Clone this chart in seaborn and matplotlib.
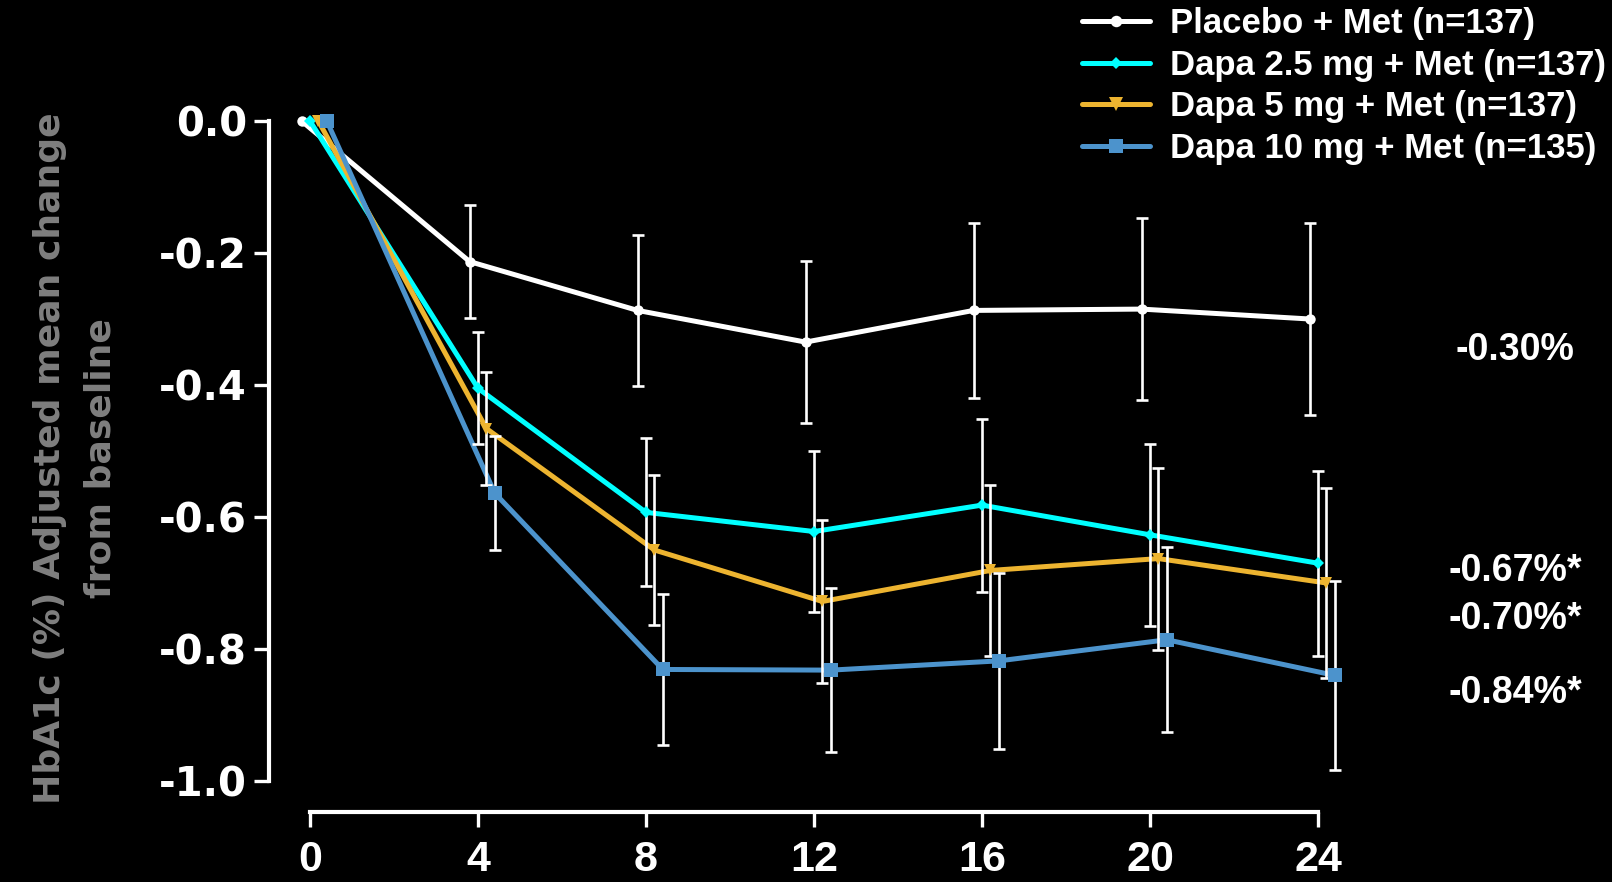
import matplotlib
matplotlib.use("Agg")
import matplotlib.pyplot as plt
from matplotlib import font_manager
from matplotlib.lines import Line2D
import matplotlib.transforms as mtransforms
import numpy as np
import pandas as pd
import seaborn as sns

# ---- data -------------------------------------------------------------
weeks = [0, 4, 8, 12, 16, 20, 24]

placebo = [0.0, -0.213, -0.287, -0.335, -0.287, -0.285, -0.30]
placebo_err = [0.0, 0.086, 0.114, 0.123, 0.132, 0.138, 0.145]

dapa25 = [0.0, -0.405, -0.593, -0.622, -0.582, -0.627, -0.67]
dapa25_err = [0.0, 0.085, 0.112, 0.122, 0.131, 0.138, 0.140]

dapa5 = [0.0, -0.466, -0.650, -0.728, -0.681, -0.663, -0.70]
dapa5_err = [0.0, 0.086, 0.113, 0.124, 0.129, 0.138, 0.144]

dapa10 = [0.0, -0.564, -0.831, -0.832, -0.818, -0.786, -0.84]
dapa10_err = [0.0, 0.086, 0.114, 0.124, 0.133, 0.140, 0.143]

group_labels = [
    "Placebo + Met (n=137)",
    "Dapa 2.5 mg + Met (n=137)",
    "Dapa 5 mg + Met (n=137)",
    "Dapa 10 mg + Met (n=135)",
]
end_labels = ["-0.30%", "-0.67%*", "-0.70%*", "-0.84%*"]
# vertical placement of the week-24 annotations (value axis)
end_label_y = [-0.347, -0.682, -0.754, -0.866]

y_ticks = [0.0, -0.2, -0.4, -0.6, -0.8, -1.0]
y_label = "HbA1c (%) Adjusted mean change\nfrom baseline"

# ---- styling ----------------------------------------------------------
series = [
    dict(y=placebo, e=placebo_err, color="#FFFFFF", marker="o", ms=7.5, dx=-0.2),
    dict(y=dapa25, e=dapa25_err, color="#00FFFF", marker="D", ms=6.0, dx=0.0),
    dict(y=dapa5, e=dapa5_err, color="#EDB430", marker="v", ms=9.0, dx=0.2),
    dict(y=dapa10, e=dapa10_err, color="#4C93CC", marker="s", ms=9.5, dx=0.4),
]

sns.set_theme(style="ticks")
names = {f.name for f in font_manager.fontManager.ttflist}
main_font = "Liberation Sans" if "Liberation Sans" in names else "DejaVu Sans"
narrow_font = "Liberation Sans Narrow" if "Liberation Sans Narrow" in names else main_font
wide_font = "DejaVu Sans"
plt.rcParams["font.family"] = [main_font, "DejaVu Sans"]
plt.rcParams["font.weight"] = "bold"

W, H = 1612, 882
fig = plt.figure(figsize=(W / 100, H / 100), dpi=100, facecolor="black")

# axes box in pixel terms: 42 px per week, 660 px per unit of HbA1c
x0_px, px_per_week = 310, 42
y0_px, px_per_unit = 121, 660
xlim = (-0.5, 24.8)
ylim = (-1.02, 0.02)
left = (x0_px + xlim[0] * px_per_week) / W
width = (xlim[1] - xlim[0]) * px_per_week / W
top_px = y0_px - ylim[1] * px_per_unit
bottom_px = y0_px - ylim[0] * px_per_unit
ax = fig.add_axes([left, 1 - bottom_px / H, width, (bottom_px - top_px) / H])
ax.set_facecolor("black")

lw = 3.6
for s in series:
    df = pd.DataFrame({"week": np.array(weeks) + s["dx"], "change": s["y"]})
    sns.lineplot(data=df, x="week", y="change", ax=ax, color=s["color"],
                 linewidth=lw, zorder=2, clip_on=False, legend=False)
    ax.errorbar(np.array(weeks[1:]) + s["dx"], s["y"][1:], yerr=s["e"][1:],
                fmt="none", ecolor="white", elinewidth=1.9, capsize=4.2,
                capthick=1.9, zorder=3, clip_on=False)
    sns.lineplot(data=df, x="week", y="change", ax=ax, color=s["color"],
                 linewidth=0, marker=s["marker"], markersize=s["ms"],
                 markeredgewidth=0, zorder=4, clip_on=False, legend=False)

ax.set_xlim(*xlim)
ax.set_ylim(*ylim)
ax.set_xticks(weeks)
ax.set_yticks(y_ticks)
ax.set_yticklabels([f"{v:.1f}" for v in y_ticks])
ax.set_xlabel("")
ax.set_ylabel("")

for side in ("top", "right"):
    ax.spines[side].set_visible(False)
for side in ("left", "bottom"):
    ax.spines[side].set_color("white")
    ax.spines[side].set_linewidth(3.0)
ax.spines["left"].set_position(("outward", 14.4))
ax.spines["bottom"].set_position(("outward", 12.8))
ax.spines["left"].set_bounds(-1.0, 0.0)
ax.spines["bottom"].set_bounds(0, 24)

ax.tick_params(axis="both", colors="white", width=2.4, length=11, direction="out")
ax.tick_params(axis="y", labelsize=29, pad=5)
ax.tick_params(axis="x", labelsize=31, pad=9)
for t in ax.get_yticklabels():
    t.set_fontweight("bold")
    t.set_color("white")
    t.set_family([wide_font])
for t in ax.get_xticklabels():
    t.set_fontweight("bold")
    t.set_color("white")
    t.set_family([narrow_font, "DejaVu Sans"])

# y-axis title, grey, two lines
fig.text(75 / W, 1 - 458 / H, y_label, rotation=90, ha="center", va="center",
         color="#7F7F7F", fontsize=26, fontweight="bold", linespacing=1.62,
         family=[wide_font])

# annotations at the end of the curves
trans = mtransforms.blended_transform_factory(fig.transFigure, ax.transData)
for txt, yv in zip(end_labels, end_label_y):
    ax.text(1515 / W, yv, txt, transform=trans, ha="center", va="center",
            color="white", fontsize=27, fontweight="bold", clip_on=False)

handles = [
    Line2D([], [], color=s["color"], linewidth=lw, marker=s["marker"],
           markersize=s["ms"] * 1.1, markeredgewidth=0)
    for s in series
]
leg = fig.legend(handles, group_labels, loc="upper left",
                 bbox_to_anchor=(1082 / W, 1 - 7 / H), frameon=False,
                 fontsize=25, handlelength=1.95, handletextpad=0.57,
                 labelspacing=0.25, borderaxespad=0.0, borderpad=0.0)
for t in leg.get_texts():
    t.set_color("white")
    t.set_fontweight("bold")

fig.savefig("out.png", dpi=100, facecolor="black")
